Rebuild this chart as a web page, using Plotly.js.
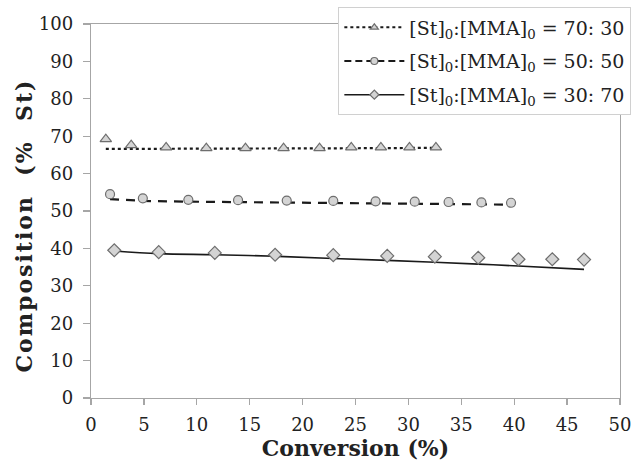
<!DOCTYPE html>
<html>
<head>
<meta charset="utf-8">
<script src="https://cdn.plot.ly/plotly-3.0.1.min.js"></script>
<style>html,body{margin:0;padding:0;background:#fff;}#chart{width:636px;height:463px;}
.ytitle{letter-spacing:2px;}</style>
</head>
<body>
<div id="chart"></div>
<script>
// Experimental data
var x7030 = [1.4, 3.8, 7.1, 10.9, 14.6, 18.2, 21.6, 24.6, 27.4, 30.1, 32.6];
var y7030 = [69.2, 67.6, 67.0, 66.8, 66.8, 66.8, 66.8, 67.0, 67.0, 67.0, 67.0];
var x5050 = [1.8, 4.9, 9.2, 13.9, 18.5, 22.9, 26.9, 30.6, 33.8, 36.9, 39.7];
var y5050 = [54.5, 53.4, 53.0, 52.9, 52.8, 52.7, 52.6, 52.5, 52.4, 52.3, 52.2];
var x3070 = [2.2, 6.4, 11.7, 17.4, 22.9, 28.0, 32.5, 36.6, 40.4, 43.6, 46.6];
var y3070 = [39.5, 39.0, 38.8, 38.3, 38.2, 38.0, 37.8, 37.5, 37.1, 37.1, 37.0];
// Model curves
var mx7030 = [1.4, 7.1, 14.6, 21.6, 27.4, 32.6];
var my7030 = [66.6, 66.6, 66.7, 66.7, 66.8, 66.9];
var mx5050 = [1.8, 4.9, 9.2, 13.9, 18.5, 22.9, 30.6, 39.7];
var my5050 = [53.2, 52.7, 52.5, 52.4, 52.3, 52.2, 52.0, 51.7];
var mx3070 = [2.2, 6.4, 11.7, 17.4, 22.9, 28.0, 32.5, 36.6, 40.4, 46.6];
var my3070 = [39.3, 38.6, 38.3, 37.9, 37.3, 36.8, 36.3, 35.8, 35.3, 34.4];
var names = ['[St]<sub>0</sub>:[MMA]<sub>0</sub> = 70: 30',
             '[St]<sub>0</sub>:[MMA]<sub>0</sub> = 50: 50',
             '[St]<sub>0</sub>:[MMA]<sub>0</sub> = 30: 70'];
var xTitle = 'Conversion (%)';
var yTitle = 'Composition\u00a0\u00a0(%\u00a0\u00a0St)\u00a0\u00a0\u00a0';

var mFill = '#d4d4d4', mLine = '#6e6e6e', lc = '#1a1a1a';
function mk(sym, size){ return {symbol: sym, size: size, color: mFill, line: {color: mLine, width: 1.2}}; }

var traces = [
  {x: mx7030, y: my7030, mode: 'lines', line: {color: lc, width: 2.2, dash: 'dot'}, showlegend: false},
  {x: mx5050, y: my5050, mode: 'lines', line: {color: lc, width: 2.2, dash: '9px,7px'}, showlegend: false},
  {x: mx3070, y: my3070, mode: 'lines', line: {color: lc, width: 1.6, shape: 'spline'}, showlegend: false},
  {x: x7030, y: y7030, mode: 'markers', marker: mk('triangle-up', 10), showlegend: false},
  {x: x5050, y: y5050, mode: 'markers', marker: mk('circle', 9), showlegend: false},
  {x: x3070, y: y3070, mode: 'markers', marker: mk('diamond', 10), showlegend: false},
  {x: [null], y: [null], name: names[0], legendgroup: 'a', mode: 'lines+markers', line: {color: lc, width: 2, dash: 'dot'}, marker: mk('triangle-up', 7)},
  {x: [null], y: [null], name: names[1], legendgroup: 'b', mode: 'lines+markers', line: {color: lc, width: 2, dash: '7px,4px'}, marker: mk('circle', 7)},
  {x: [null], y: [null], name: names[2], legendgroup: 'c', mode: 'lines+markers', line: {color: lc, width: 1.6}, marker: mk('diamond', 7)}
];

var axc = '#a6a6a6';
var ff = 'DejaVu Serif, serif';
var layout = {
  width: 636, height: 463,
  margin: {l: 91, r: 16, t: 24, b: 65, autoexpand: false},
  paper_bgcolor: '#fff', plot_bgcolor: '#fff',
  font: {family: ff, color: '#222', size: 17},
  xaxis: {
    range: [0, 50], dtick: 5, tick0: 0, showgrid: false, zeroline: false,
    showline: true, linecolor: axc, linewidth: 1.3, mirror: true,
    ticks: 'outside', ticklen: 6, tickcolor: axc, tickwidth: 1.3,
    ticklabelstandoff: 4,
    tickfont: {size: 18, family: ff, color: '#222'},
    title: {text: '<b>' + xTitle + '</b>', font: {size: 22, family: ff, color: '#222'}, standoff: 2}
  },
  yaxis: {
    range: [0, 100], dtick: 10, tick0: 0, showgrid: false, zeroline: false,
    showline: true, linecolor: axc, linewidth: 1.3, mirror: true,
    ticks: 'outside', ticklen: 7, tickcolor: axc, tickwidth: 1.3,
    ticklabelstandoff: 6,
    tickfont: {size: 18, family: ff, color: '#222'},
    title: {text: '<b>' + yTitle + '</b>', font: {size: 22, family: ff, color: '#222'}, standoff: 0}
  },
  legend: {
    x: 0.467, xanchor: 'left', y: 1.045, yanchor: 'top',
    bgcolor: '#fff', bordercolor: '#d0d0d0', borderwidth: 1.3,
    font: {size: 19, family: ff, color: '#222'},
    itemwidth: 60, tracegroupgap: 6
  }
};

Plotly.newPlot('chart', traces, layout, {displayModeBar: false, staticPlot: true});
</script>
</body>
</html>
